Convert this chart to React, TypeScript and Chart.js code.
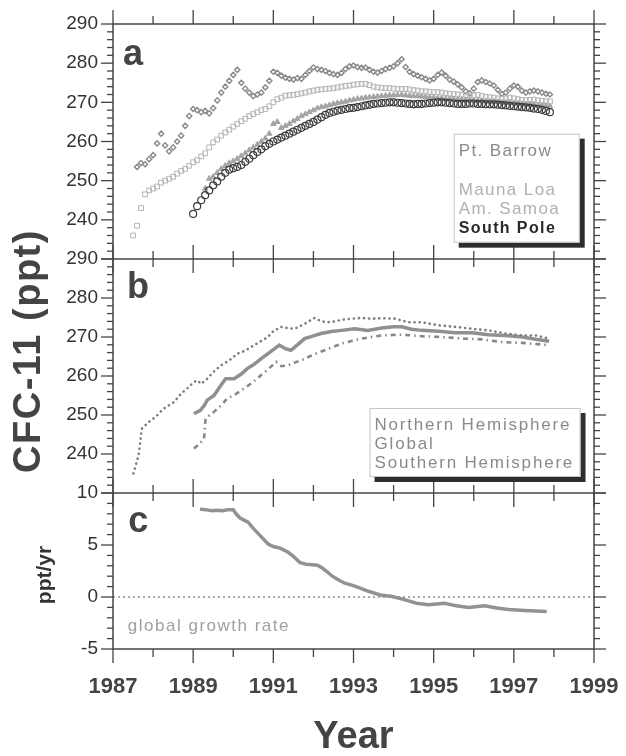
import React, { useEffect, useRef } from 'react';
import { Chart, registerables } from 'chart.js';

Chart.register(...registerables);

const FONT = '"Liberation Sans", Arial, Helvetica, sans-serif';

// x tick labels (years)
const yearTickLabels = [1987, 1989, 1991, 1993, 1995, 1997, 1999];

// Panel a: station records, sampled every ~0.1 yr
const gridYears = [
  1987.5, 1987.6, 1987.7, 1987.8, 1987.9,
  1988.0, 1988.1, 1988.2, 1988.3, 1988.4, 1988.5, 1988.6, 1988.7, 1988.8, 1988.9,
  1989.0, 1989.1, 1989.2, 1989.3, 1989.4, 1989.5, 1989.6, 1989.7, 1989.8, 1989.9,
  1990.0, 1990.1, 1990.2, 1990.3, 1990.4, 1990.5, 1990.6, 1990.7, 1990.8, 1990.9,
  1991.0, 1991.1, 1991.2, 1991.3, 1991.4, 1991.5, 1991.6, 1991.7, 1991.8, 1991.9,
  1992.0, 1992.1, 1992.2, 1992.3, 1992.4, 1992.5, 1992.6, 1992.7, 1992.8, 1992.9,
  1993.0, 1993.1, 1993.2, 1993.3, 1993.4, 1993.5, 1993.6, 1993.7, 1993.8, 1993.9,
  1994.0, 1994.1, 1994.2, 1994.3, 1994.4, 1994.5, 1994.6, 1994.7, 1994.8, 1994.9,
  1995.0, 1995.1, 1995.2, 1995.3, 1995.4, 1995.5, 1995.6, 1995.7, 1995.8, 1995.9,
  1996.0, 1996.1, 1996.2, 1996.3, 1996.4, 1996.5, 1996.6, 1996.7, 1996.8, 1996.9,
  1997.0, 1997.1, 1997.2, 1997.3, 1997.4, 1997.5, 1997.6, 1997.7, 1997.8, 1997.9,
];

const barrowPpt = [
  null, 253.5, 254.5, 254.2, 255.5,
  256.5, 259.5, 262.0, 259.0, 257.5, 258.5, 260.0, 261.5, 264.0, 266.5,
  268.3, 268.0, 267.5, 267.8, 267.2, 268.5, 270.5, 272.5, 274.0, 275.5,
  277.0, 278.3, 275.0, 273.5, 272.5, 271.6, 272.0, 272.5, 273.8, 275.5,
  277.8, 277.5, 276.8, 276.3, 276.0, 275.8, 276.2, 276.0, 277.0, 278.0,
  278.9, 278.5, 278.3, 278.0, 277.5, 277.2, 277.0, 277.5, 278.5, 279.2,
  279.4, 279.0, 278.8, 278.9, 278.3, 277.8, 277.6, 278.0, 278.5, 278.8,
  279.2, 280.0, 281.0, 279.0, 277.8, 277.2, 276.8, 276.4, 276.0, 275.6,
  276.0, 277.0, 277.6, 276.8, 275.8, 275.3, 274.6, 273.8, 272.8, 272.3,
  273.5, 275.2, 275.6, 275.2, 274.8, 274.3, 273.2, 272.2, 272.5, 273.5,
  274.3, 274.0, 273.0, 272.5, 272.8, 273.0, 272.8, 272.5, 272.2, 272.0,
];

const maunaLoaPpt = [
  236.0, 238.5, 243.0, 246.5, 247.5,
  248.0, 248.5, 249.5, 250.0, 250.5, 251.0, 251.8, 252.5, 253.0, 253.8,
  254.7, 255.2, 256.2, 257.0, 258.5, 259.8, 260.5, 261.5, 262.3, 263.0,
  263.8, 264.5, 265.2, 265.8, 266.5, 267.0, 267.5, 268.0, 268.3, 269.0,
  270.0, 270.8, 271.2, 271.7, 271.8, 271.9, 272.1, 272.3, 272.5, 272.8,
  273.0, 273.2, 273.3, 273.4, 273.5, 273.6, 273.8, 274.0, 274.2, 274.3,
  274.5, 274.6, 274.7, 274.7, 274.4, 274.0, 273.8, 273.7, 273.6, 273.6,
  273.5, 273.4, 273.4, 273.4, 273.3, 273.1, 273.0, 272.8, 272.8, 272.7,
  272.6, 272.6, 272.5, 272.3, 272.2, 272.1, 272.0, 271.9, 271.8, 271.7,
  271.8, 271.9, 271.6, 271.4, 271.3, 271.2, 271.0, 270.9, 271.0, 271.2,
  271.0, 270.8, 270.6, 270.5, 270.6, 270.7, 270.5, 270.4, 270.3, 270.2,
];

const samoaPpt = [
  null, null, null, null, null,
  null, null, null, null, null, null, null, null, null, null,
  null, null, null, 248.0, 250.5, 251.0, 252.0, 253.0, 253.8, 254.5,
  255.0, 255.6, 256.3, 257.0, 257.8, 258.5, 259.2, 260.0, 260.8, 262.0,
  264.5, 265.0, 263.5, 264.0, 264.5, 265.2, 265.8, 266.5, 267.0, 267.5,
  268.0, 268.5, 268.8, 269.0, 269.3, 269.6, 269.8, 270.0, 270.2, 270.5,
  270.7, 270.9, 271.0, 271.2, 271.3, 271.4, 271.5, 271.6, 271.7, 271.8,
  271.8, 271.9, 271.9, 271.8, 271.7, 271.6, 271.6, 271.5, 271.4, 271.3,
  271.2, 271.1, 271.0, 270.9, 270.9, 270.8, 270.7, 270.7, 270.6, 270.5,
  270.5, 270.4, 270.4, 270.3, 270.2, 270.2, 270.1, 270.0, 269.9, 269.9,
  269.8, 269.7, 269.6, 269.5, 269.5, 269.4, 269.3, 269.2, 269.1, 269.0,
];

const southPolePpt = [
  null, null, null, null, null,
  null, null, null, null, null, null, null, null, null, null,
  241.5, 243.5, 245.0, 246.3, 247.5, 248.8, 249.8, 251.0, 252.0, 252.8,
  253.2, 253.5, 254.0, 254.8, 255.6, 256.5, 257.3, 258.0, 258.8, 259.4,
  260.0, 260.5, 261.0, 261.5, 262.0, 262.5, 263.0, 263.5, 264.0, 264.5,
  265.0, 265.6, 266.2, 266.8, 267.3, 267.6, 267.9, 268.1, 268.3, 268.5,
  268.6, 268.8, 269.0, 269.2, 269.4, 269.6, 269.7, 269.8, 269.9, 270.0,
  270.0, 269.9, 269.8, 269.7, 269.6, 269.5, 269.6, 269.6, 269.7, 269.8,
  269.9, 270.0, 270.0, 269.9, 269.8, 269.7, 269.6, 269.6, 269.6, 269.7,
  269.7, 269.6, 269.6, 269.5, 269.5, 269.5, 269.4, 269.3, 269.2, 269.1,
  269.0, 268.9, 268.8, 268.7, 268.6, 268.4, 268.3, 268.1, 267.8, 267.5,
];

// Panel b: hemispheric and global means
const nhYears = [1987.51, 1987.64, 1987.72, 1987.89, 1988.06, 1988.26, 1988.52, 1988.7, 1988.85, 1989.0, 1989.1, 1989.2, 1989.35, 1989.5, 1989.69, 1989.9, 1990.1, 1990.3, 1990.52, 1990.7, 1990.86, 1991.0, 1991.19, 1991.35, 1991.53, 1991.8, 1992.03, 1992.2, 1992.44, 1992.7, 1992.95, 1993.2, 1993.45, 1993.75, 1994.03, 1994.37, 1994.7, 1995.12, 1995.54, 1995.96, 1996.37, 1996.79, 1997.21, 1997.55, 1997.88];
const nhPpt = [235.0, 239.7, 246.5, 248.2, 249.5, 251.6, 253.3, 255.5, 256.8, 258.3, 258.9, 258.0, 259.3, 261.0, 262.7, 264.0, 265.7, 266.5, 267.9, 269.0, 270.0, 271.5, 272.6, 272.3, 272.1, 273.5, 274.9, 274.0, 273.8, 274.4, 274.7, 274.9, 274.7, 274.8, 274.7, 273.8, 273.8, 273.0, 272.6, 272.1, 271.7, 270.9, 270.4, 270.4, 269.6];

const globalYears = [1989.02, 1989.18, 1989.28, 1989.35, 1989.52, 1989.65, 1989.81, 1990.02, 1990.2, 1990.35, 1990.52, 1990.69, 1990.9, 1991.15, 1991.3, 1991.44, 1991.6, 1991.78, 1992.0, 1992.19, 1992.45, 1992.7, 1993.03, 1993.36, 1993.7, 1994.0, 1994.2, 1994.45, 1994.7, 1995.12, 1995.54, 1995.96, 1996.37, 1996.79, 1997.21, 1997.55, 1997.88];
const globalPpt = [250.3, 251.2, 252.5, 253.8, 255.0, 257.0, 259.3, 259.3, 260.5, 261.9, 263.0, 264.4, 266.0, 267.9, 267.0, 266.6, 268.0, 269.6, 270.3, 270.9, 271.4, 271.7, 272.1, 271.7, 272.3, 272.6, 272.6, 272.0, 271.7, 271.5, 271.1, 271.1, 270.6, 270.4, 270.0, 269.4, 268.9];

const shYears = [1989.02, 1989.15, 1989.27, 1989.31, 1989.52, 1989.7, 1989.85, 1990.05, 1990.27, 1990.5, 1990.69, 1990.9, 1991.07, 1991.2, 1991.36, 1991.55, 1991.78, 1992.0, 1992.28, 1992.5, 1992.7, 1992.95, 1993.2, 1993.45, 1993.7, 1993.95, 1994.2, 1994.45, 1994.7, 1995.2, 1995.71, 1996.2, 1996.71, 1997.21, 1997.55, 1997.88];
const shPpt = [241.4, 242.5, 243.9, 249.1, 250.8, 252.5, 254.2, 255.3, 256.8, 258.5, 260.2, 262.0, 263.6, 262.5, 262.7, 263.5, 264.4, 265.5, 266.6, 267.5, 268.3, 269.0, 269.6, 270.0, 270.4, 270.5, 270.6, 270.4, 270.2, 270.0, 269.6, 269.4, 268.7, 268.5, 268.2, 267.9];

// Panel c: global growth rate (ppt/yr)
const rateYears = [1989.17, 1989.3, 1989.47, 1989.6, 1989.75, 1989.87, 1990.0, 1990.07, 1990.17, 1990.37, 1990.5, 1990.67, 1990.87, 1991.0, 1991.17, 1991.37, 1991.5, 1991.67, 1991.82, 1991.97, 1992.1, 1992.22, 1992.35, 1992.47, 1992.62, 1992.77, 1993.07, 1993.37, 1993.67, 1993.97, 1994.27, 1994.57, 1994.87, 1995.27, 1995.57, 1995.87, 1996.27, 1996.57, 1996.87, 1997.27, 1997.82];
const rateValues = [8.45, 8.4, 8.3, 8.35, 8.3, 8.4, 8.4, 8.0, 7.6, 7.2, 6.6, 5.9, 5.1, 4.85, 4.7, 4.3, 3.9, 3.3, 3.15, 3.1, 3.05, 2.8, 2.4, 2.0, 1.65, 1.35, 1.0, 0.55, 0.2, 0.05, -0.25, -0.6, -0.75, -0.6, -0.85, -1.0, -0.85, -1.05, -1.2, -1.3, -1.4];

const stationLegend = ['Pt. Barrow', 'Mauna Loa', 'Am. Samoa', 'South Pole'];
const hemiLegend = ['Northern Hemisphere', 'Global', 'Southern Hemisphere'];

function pairs(xs: number[], ys: (number | null)[]) {
  const out: { x: number; y: number }[] = [];
  xs.forEach((x, i) => {
    const y = ys[i];
    if (y !== null && y !== undefined) out.push({ x, y });
  });
  return out;
}

function line(ctx: CanvasRenderingContext2D, x1: number, y1: number, x2: number, y2: number) {
  ctx.beginPath();
  ctx.moveTo(x1, y1);
  ctx.lineTo(x2, y2);
  ctx.stroke();
}

const decorPlugin = {
  id: 'decor',
  beforeDatasetsDraw(chart: any) {
    const { ctx, chartArea: ca, scales } = chart;
    const y0 = scales.yC.getPixelForValue(0);
    ctx.save();
    ctx.strokeStyle = '#555';
    ctx.lineWidth = 1;
    ctx.setLineDash([2, 3]);
    line(ctx, ca.left, y0, ca.right, y0);
    ctx.restore();
  },
  afterDatasetsDraw(chart: any) {
    const { ctx, chartArea: ca, scales } = chart;
    const x = scales.x;
    const yA = scales.yA, yB = scales.yB, yC = scales.yC;
    ctx.save();
    ctx.strokeStyle = '#444';
    ctx.lineWidth = 1.5;
    ctx.setLineDash([]);
    ctx.strokeRect(ca.left, ca.top, ca.right - ca.left, ca.bottom - ca.top);
    const bounds = [yB.top, yC.top];
    bounds.forEach((b) => line(ctx, ca.left, b, ca.right, b));

    const panels = [
      { s: yA, minor: 2, major: 10 },
      { s: yB, minor: 2, major: 10 },
      { s: yC, minor: 1, major: 5 },
    ];
    ctx.lineWidth = 1.3;
    panels.forEach((p) => {
      for (let v = p.s.min; v <= p.s.max; v += p.minor) {
        const yy = p.s.getPixelForValue(v);
        const len = v % p.major === 0 ? 12 : 6;
        line(ctx, ca.left - len, yy, ca.left, yy);
        line(ctx, ca.right, yy, ca.right + len, yy);
      }
    });
    for (let yr = x.min; yr <= x.max; yr += 1) {
      const xx = x.getPixelForValue(yr);
      const len = yr % 2 === 1 ? 14 : 8;
      line(ctx, xx, ca.top - len, xx, ca.top);
      line(ctx, xx, ca.bottom, xx, ca.bottom + len);
      bounds.forEach((b) => line(ctx, xx, b - len, xx, b + len));
    }

    // panel letters
    ctx.fillStyle = '#444';
    ctx.font = `bold 36px ${FONT}`;
    ctx.textBaseline = 'alphabetic';
    ctx.textAlign = 'left';
    ctx.fillText('a', x.getPixelForValue(1987.25), yA.top + 41);
    ctx.fillText('b', x.getPixelForValue(1987.35), yB.top + 39);
    ctx.fillText('c', x.getPixelForValue(1987.38), yC.top + 39);

    // legend boxes
    const drawBox = (bx: number, by: number, bw: number, bh: number) => {
      ctx.fillStyle = '#2e2e2e';
      ctx.fillRect(bx + 5, by + 5, bw, bh);
      ctx.fillStyle = '#fff';
      ctx.fillRect(bx, by, bw, bh);
      ctx.strokeStyle = '#c4c4c4';
      ctx.lineWidth = 1;
      ctx.strokeRect(bx + 0.5, by + 0.5, bw - 1, bh - 1);
    };
    const ax = x.getPixelForValue(1995.5);
    const ay = yA.getPixelForValue(262);
    drawBox(ax, ay, 126, 109);
    ctx.textBaseline = 'middle';
    (ctx as any).letterSpacing = '1.4px';
    const aColors = ['#8a8a8a', '#b0b0b0', '#b0b0b0', '#2a2a2a'];
    const aOffsets = [17.5, 57, 76, 95];
    stationLegend.forEach((t, i) => {
      ctx.font = i === 3 ? `bold 16px ${FONT}` : `17px ${FONT}`;
      ctx.fillStyle = aColors[i];
      ctx.fillText(t, ax + 5, ay + aOffsets[i]);
    });

    const bx = x.getPixelForValue(1993.4);
    const by = yB.getPixelForValue(251.8);
    drawBox(bx, by, 211, 69);
    (ctx as any).letterSpacing = '1.8px';
    ctx.font = `17px ${FONT}`;
    ctx.fillStyle = '#8a8a8a';
    hemiLegend.forEach((t, i) => {
      ctx.fillText(t, bx + 5, by + 17 + i * 19);
    });

    // annotation in panel c
    (ctx as any).letterSpacing = '1.5px';
    ctx.fillStyle = '#a0a0a0';
    ctx.font = `17px ${FONT}`;
    ctx.fillText('global growth rate', x.getPixelForValue(1987.37), yC.getPixelForValue(-2.85));

    // y-axis titles
    (ctx as any).letterSpacing = '1.5px';
    ctx.fillStyle = '#444';
    ctx.textAlign = 'center';
    ctx.save();
    ctx.translate(30, yB.top + 92);
    ctx.rotate(-Math.PI / 2);
    ctx.font = `bold 38px ${FONT}`;
    ctx.fillText('CFC-11 (ppt)', 0, 0);
    ctx.restore();
    (ctx as any).letterSpacing = '0px';
    ctx.save();
    ctx.translate(45, (yC.top + yC.bottom) / 2 + 4);
    ctx.rotate(-Math.PI / 2);
    ctx.font = `bold 21px ${FONT}`;
    ctx.fillStyle = '#333';
    ctx.fillText('ppt/yr', 0, 0);
    ctx.restore();

    ctx.restore();
  },
};

const yTickFont = { family: FONT, size: 19 };

export default function App() {
  const ref = useRef<HTMLCanvasElement>(null);
  useEffect(() => {
    const canvas = ref.current;
    if (!canvas) return;
    const chart = new Chart(canvas, {
      type: 'scatter',
      data: {
        datasets: [
          {
            label: stationLegend[0],
            data: pairs(gridYears, barrowPpt),
            yAxisID: 'yA',
            pointStyle: 'rectRot',
            pointRadius: 2.6,
            pointBorderWidth: 1.4,
            borderColor: '#8a8a8a',
            backgroundColor: 'rgba(255,255,255,0)',
            order: 4,
          },
          {
            label: stationLegend[1],
            data: pairs(gridYears, maunaLoaPpt),
            yAxisID: 'yA',
            pointStyle: 'rect',
            pointRadius: 3.4,
            pointBorderWidth: 1,
            borderColor: '#b4b4b4',
            backgroundColor: 'rgba(255,255,255,0)',
            order: 3,
          },
          {
            label: stationLegend[2],
            data: pairs(gridYears, samoaPpt),
            yAxisID: 'yA',
            pointStyle: 'triangle',
            pointRadius: 3.2,
            pointBorderWidth: 1,
            borderColor: '#a4a4a4',
            backgroundColor: '#a4a4a4',
            order: 2,
          },
          {
            label: stationLegend[3],
            data: pairs(gridYears, southPolePpt),
            yAxisID: 'yA',
            pointStyle: 'circle',
            pointRadius: 3.5,
            pointBorderWidth: 1.2,
            borderColor: '#3a3a3a',
            backgroundColor: 'rgba(255,255,255,0)',
            order: 1,
          },
          {
            label: hemiLegend[0],
            data: pairs(nhYears, nhPpt),
            yAxisID: 'yB',
            showLine: true,
            pointRadius: 0,
            borderColor: '#7c7c7c',
            borderWidth: 2.6,
            borderDash: [0.1, 5],
            borderCapStyle: 'round',
          },
          {
            label: hemiLegend[1],
            data: pairs(globalYears, globalPpt),
            yAxisID: 'yB',
            showLine: true,
            pointRadius: 0,
            borderColor: '#909090',
            borderWidth: 3.5,
          },
          {
            label: hemiLegend[2],
            data: pairs(shYears, shPpt),
            yAxisID: 'yB',
            showLine: true,
            pointRadius: 0,
            borderColor: '#888888',
            borderWidth: 2.6,
            borderDash: [5, 4, 1.5, 4],
          },
          {
            label: 'global growth rate',
            data: pairs(rateYears, rateValues),
            yAxisID: 'yC',
            showLine: true,
            pointRadius: 0,
            borderColor: '#929292',
            borderWidth: 3.5,
          },
        ],
      },
      options: {
        responsive: false,
        maintainAspectRatio: false,
        devicePixelRatio: 1,
        animation: false,
        layout: { padding: { top: 24, right: 32, left: 0, bottom: 0 } },
        plugins: { legend: { display: false }, tooltip: { enabled: false } },
        scales: {
          x: {
            type: 'linear',
            position: 'bottom',
            min: yearTickLabels[0],
            max: yearTickLabels[yearTickLabels.length - 1],
            afterBuildTicks: (s: any) => {
              s.ticks = yearTickLabels.map((v) => ({ value: v }));
            },
            ticks: {
              autoSkip: false,
              maxRotation: 0,
              padding: 25,
              color: '#444',
              font: { family: FONT, size: 22, weight: 'bold' },
              callback: (v: any) => String(v),
            },
            grid: { display: false, drawTicks: false },
            border: { display: false },
            title: {
              display: true,
              text: 'Year',
              color: '#444',
              font: { family: FONT, size: 38, weight: 'bold' },
              padding: { top: 0, bottom: -4 },
            },
            afterFit: (s: any) => {
              s.height = 107;
              s.paddingLeft = 0;
              s.paddingRight = 0;
            },
          },
          yA: {
            type: 'linear',
            position: 'left',
            stack: 'cfc',
            stackWeight: 235,
            weight: 3,
            min: 230,
            max: 290,
            ticks: {
              stepSize: 10,
              autoSkip: false,
              padding: 15,
              color: '#333',
              font: yTickFont,
              callback: (v: any) => (v === 230 ? '' : String(v)),
            },
            grid: { display: false, drawTicks: false },
            border: { display: false },
            afterFit: (s: any) => {
              s.width = 113;
              s.paddingTop = 0;
              s.paddingBottom = 0;
            },
          },
          yB: {
            type: 'linear',
            position: 'left',
            stack: 'cfc',
            stackWeight: 234,
            weight: 2,
            min: 230,
            max: 290,
            ticks: {
              stepSize: 10,
              autoSkip: false,
              padding: 15,
              color: '#333',
              font: yTickFont,
              callback: (v: any) => (v === 230 ? '' : String(v)),
            },
            grid: { display: false, drawTicks: false },
            border: { display: false },
            afterFit: (s: any) => {
              s.width = 113;
              s.paddingTop = 0;
              s.paddingBottom = 0;
            },
          },
          yC: {
            type: 'linear',
            position: 'left',
            stack: 'cfc',
            stackWeight: 156,
            weight: 1,
            min: -5,
            max: 10,
            ticks: {
              stepSize: 5,
              autoSkip: false,
              padding: 15,
              color: '#333',
              font: yTickFont,
              callback: (v: any) => String(v),
            },
            grid: { display: false, drawTicks: false },
            border: { display: false },
            afterFit: (s: any) => {
              s.width = 113;
              s.paddingTop = 0;
              s.paddingBottom = 0;
            },
          },
        },
      },
      plugins: [decorPlugin],
    } as any);
    return () => chart.destroy();
  }, []);

  return (
    <div style={{ position: 'fixed', left: 0, top: 0, width: 626, height: 756, background: '#fff' }}>
      <canvas ref={ref} width={626} height={756} style={{ display: 'block', width: 626, height: 756 }} />
    </div>
  );
}
